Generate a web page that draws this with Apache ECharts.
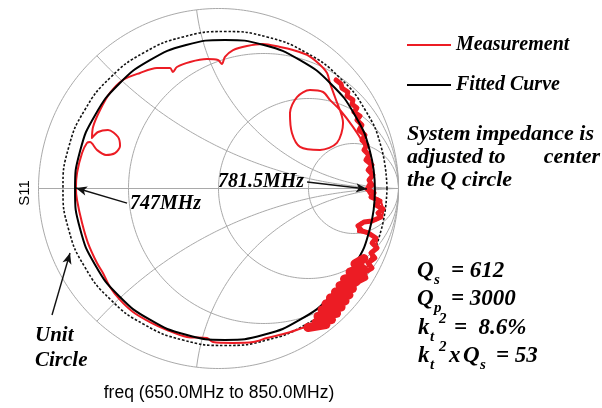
<!DOCTYPE html>
<html>
<head>
<meta charset="utf-8">
<script src="https://cdn.jsdelivr.net/npm/echarts@6/dist/echarts.min.js"></script>
<style>
html, body { margin: 0; padding: 0; background: #ffffff; }
#chart { width: 602px; height: 408px; }
</style>
</head>
<body>
<div id="chart"></div>
<script>
// Smith chart grid: normalised resistance circles and reactance arcs
const resistanceValues = [1 / 3, 1, 3];
const reactanceValues = [0.44, 0.885, -0.44, -0.885];

// Measured S11 (real, imag), 650 MHz to 850 MHz
const measuredMain = [
  [0.464, -0.775], [0.381, -0.803], [0.269, -0.831], [0.192, -0.853], [0.081, -0.858],
  [-0.031, -0.853], [-0.064, -0.831], [-0.175, -0.825], [-0.286, -0.786], [-0.381, -0.742],
  [-0.475, -0.686], [-0.547, -0.619], [-0.603, -0.547], [-0.642, -0.469], [-0.675, -0.414],
  [-0.725, -0.303], [-0.758, -0.192], [-0.786, -0.064], [-0.792, 0.003], [-0.786, 0.086],
  [-0.758, 0.197], [-0.731, 0.253], [-0.714, 0.258],
  [-0.675, 0.214], [-0.625, 0.186], [-0.575, 0.197], [-0.547, 0.236], [-0.558, 0.286],
  [-0.614, 0.325], [-0.669, 0.314], [-0.703, 0.281],
  [-0.697, 0.342], [-0.658, 0.436], [-0.603, 0.531], [-0.531, 0.603], [-0.436, 0.642],
  [-0.342, 0.669], [-0.269, 0.669], [-0.253, 0.647], [-0.231, 0.675], [-0.158, 0.703],
  [-0.064, 0.719], [-0.003, 0.714], [0.019, 0.692], [0.036, 0.731], [0.081, 0.769],
  [0.158, 0.792], [0.247, 0.803], [0.342, 0.786], [0.414, 0.769], [0.492, 0.742],
  [0.553, 0.697], [0.603, 0.642], [0.619, 0.586], [0.647, 0.508],
  [0.692, 0.364], [0.658, 0.253], [0.564, 0.214], [0.453, 0.231], [0.408, 0.308],
  [0.397, 0.419], [0.436, 0.508], [0.508, 0.547], [0.581, 0.536], [0.619, 0.492],
  [0.675, 0.436], [0.747, 0.342], [0.803, 0.253], [0.842, 0.158], [0.853, 0.064],
  [0.825, 0.008], [0.842, -0.036], [0.897, -0.064], [0.914, -0.136], [0.881, -0.175],
  [0.786, -0.192], [0.775, -0.242], [0.825, -0.247], [0.881, -0.286], [0.858, -0.358],
  [0.825, -0.436], [0.786, -0.508], [0.714, -0.564], [0.636, -0.581], [0.603, -0.619],
  [0.564, -0.692], [0.547, -0.731], [0.525, -0.758], [0.464, -0.775]
];

// Noisy stretch of the trace around resonance
const measuredNoisyEdge = [
  [0.653, 0.603], [0.681, 0.581], [0.686, 0.558], [0.719, 0.536], [0.714, 0.514],
  [0.747, 0.492], [0.742, 0.469], [0.769, 0.447], [0.753, 0.425], [0.786, 0.403],
  [0.769, 0.381], [0.797, 0.353], [0.781, 0.325], [0.814, 0.297], [0.797, 0.269],
  [0.825, 0.242], [0.808, 0.214], [0.836, 0.186], [0.819, 0.158], [0.853, 0.131],
  [0.831, 0.103], [0.858, 0.075], [0.836, 0.047], [0.853, 0.019], [0.825, -0.003],
  [0.864, -0.025], [0.847, -0.047], [0.897, -0.069], [0.875, -0.092], [0.914, -0.114],
  [0.886, -0.136], [0.903, -0.158], [0.853, -0.181], [0.808, -0.186], [0.775, -0.208],
  [0.797, -0.236], [0.831, -0.247], [0.875, -0.275], [0.853, -0.303], [0.881, -0.331],
  [0.847, -0.358], [0.869, -0.386], [0.831, -0.414], [0.853, -0.442], [0.808, -0.469],
  [0.819, -0.497], [0.775, -0.519]
];

// Dense cluster of samples at the lower right
const measuredCluster = [
  [0.808, -0.389], [0.758, -0.419], [0.797, -0.442], [0.731, -0.464], [0.786, -0.481],
  [0.700, -0.503], [0.764, -0.519], [0.675, -0.539], [0.744, -0.556], [0.650, -0.575],
  [0.725, -0.592], [0.622, -0.608], [0.703, -0.625], [0.597, -0.642], [0.681, -0.658],
  [0.575, -0.675], [0.656, -0.694], [0.553, -0.711], [0.628, -0.728], [0.542, -0.744],
  [0.597, -0.756], [0.497, -0.772]
];

// Fitted Q circle
const fittedCurve = [
  [0.869, -0.008], [0.841, 0.208], [0.757, 0.409], [0.625, 0.581], [0.453, 0.713],
  [0.252, 0.797], [0.036, 0.825], [-0.180, 0.797], [-0.381, 0.713], [-0.553, 0.581],
  [-0.685, 0.409], [-0.769, 0.208], [-0.797, -0.008], [-0.769, -0.224], [-0.685, -0.425],
  [-0.553, -0.597], [-0.381, -0.729], [-0.180, -0.813], [0.036, -0.841], [0.252, -0.813],
  [0.453, -0.729], [0.625, -0.597], [0.757, -0.425], [0.841, -0.224], [0.869, -0.008]
];

// Unit circle of the renormalised system
const unitCircle = [
  [0.936, 0], [0.905, 0.226], [0.815, 0.436], [0.672, 0.617], [0.486, 0.755],
  [0.269, 0.842], [0.036, 0.872], [-0.197, 0.842], [-0.414, 0.755], [-0.600, 0.617],
  [-0.743, 0.436], [-0.833, 0.226], [-0.864, 0], [-0.833, -0.226], [-0.743, -0.436],
  [-0.600, -0.617], [-0.414, -0.755], [-0.197, -0.842], [0.036, -0.872], [0.269, -0.842],
  [0.486, -0.755], [0.672, -0.617], [0.815, -0.436], [0.905, -0.226], [0.936, 0]
];

// Marker annotations: [tail, head]
const markers747 = [[-0.508, -0.081], [-0.792, 0.003]];
const markers7815 = [[0.492, 0.036], [0.825, -0.003]];
const unitCircleArrow = [[-0.925, -0.703], [-0.825, -0.358]];

function toGamma(r, x) {
  const d = (r + 1) * (r + 1) + x * x;
  return [(r * r - 1 + x * x) / d, 2 * x / d];
}
function resistanceCircle(r) {
  const pts = [[1, 0]];
  const n = 720;
  for (let i = 1; i < n; i++) {
    const t = -Math.PI / 2 + Math.PI * i / n;
    pts.push(toGamma(r, Math.tan(t)));
  }
  pts.push([1, 0]);
  return pts;
}
function reactanceArc(x) {
  const pts = [];
  const n = 600;
  for (let i = 0; i < n; i++) {
    const t = (Math.PI / 2) * i / n;
    pts.push(toGamma(Math.tan(t), x));
  }
  pts.push([1, 0]);
  return pts;
}
function outerCircle() {
  const pts = [];
  for (let i = 0; i <= 720; i++) {
    const a = 2 * Math.PI * i / 720;
    pts.push([Math.cos(a), Math.sin(a)]);
  }
  return pts;
}

const gridColor = '#a9a9a9';
function gridSeries(data) {
  return {
    type: 'line', data: data, symbol: 'none', silent: true, animation: false,
    lineStyle: { color: gridColor, width: 1 }, z: 1, legendHoverLink: false
  };
}

const series = [];
series.push(gridSeries(outerCircle()));
series.push(gridSeries([[-1, 0], [1, 0]]));
resistanceValues.forEach(r => series.push(gridSeries(resistanceCircle(r))));
reactanceValues.forEach(x => series.push(gridSeries(reactanceArc(x))));

series.push({
  type: 'line', name: 'Unit circle', data: unitCircle, symbol: 'none', smooth: 0.5,
  silent: true, animation: false, z: 3,
  lineStyle: { color: '#111', width: 1.6, type: [2.5, 1.8] }
});

const red = '#ec1c24';
series.push({
  type: 'line', name: 'Measurement', color: red, data: measuredMain, symbol: 'none',
  smooth: 0.3, silent: true, animation: false, z: 4,
  lineStyle: { color: red, width: 2, join: 'round' }
});
series.push({
  type: 'line', name: 'Measurement', color: red, data: measuredNoisyEdge, symbol: 'none',
  silent: true, animation: false, z: 4,
  lineStyle: { color: red, width: 5, join: 'round', cap: 'round' }
});
series.push({
  type: 'line', name: 'Fitted Curve', color: '#000', data: fittedCurve, symbol: 'none',
  smooth: 0.5, silent: true, animation: false, z: 5,
  lineStyle: { color: '#000', width: 2 }
});
series.push({
  type: 'line', name: 'Measurement', color: red, data: measuredCluster, symbol: 'none',
  silent: true, animation: false, z: 6,
  lineStyle: { color: red, width: 9, join: 'round', cap: 'round' }
});

function arrowPair(p) {
  return [{ coord: p[0], symbol: 'none' }, { coord: p[1], symbol: 'arrow' }];
}
series.push({
  type: 'line', data: [], silent: true, animation: false, z: 7,
  markLine: {
    silent: true, animation: false, symbolSize: [7, 11],
    label: { show: false },
    lineStyle: { color: '#111', width: 1.4, type: 'solid' },
    data: [arrowPair(markers747), arrowPair(markers7815), arrowPair(unitCircleArrow)]
  }
});

const serif = '"Liberation Serif", "Times New Roman", serif';
const sans = '"Liberation Sans", Arial, sans-serif';
function label(text, x, y, size, opts) {
  const o = opts || {};
  return {
    type: 'text', x: x, y: y, silent: true, z: 20,
    rotation: o.rotation || 0,
    style: {
      text: text, fill: '#000',
      fontFamily: o.family || serif,
      fontSize: size,
      fontWeight: o.weight || 'bold',
      fontStyle: o.style || 'italic',
      textAlign: o.align || 'left',
      textVerticalAlign: 'middle'
    }
  };
}

const graphics = [
  label('S11', 25, 193, 15, { family: sans, weight: 'normal', style: 'normal', align: 'center', rotation: Math.PI / 2 }),
  label('freq (650.0MHz to 850.0MHz)', 219, 393, 17.5, { family: sans, weight: 'normal', style: 'normal', align: 'center' }),
  label('747MHz', 130, 204, 20),
  label('781.5MHz', 218, 182, 20),
  label('Unit', 35, 336, 21),
  label('Circle', 35, 361, 21),
  label('System impedance is', 407, 134, 22),
  label('adjusted', 407, 157, 22),
  label('to', 497, 157, 22, { align: 'center' }),
  label('center', 600, 157, 22, { align: 'right' }),
  label('the Q circle', 407, 180, 22),
  // Q_s = 612
  label('Q', 417, 271, 23),
  label('s', 434, 280, 15),
  label('= 612', 451, 271, 23),
  // Q_p = 3000
  label('Q', 417, 299, 23),
  label('p', 434, 308, 15),
  label('= 3000', 451, 299, 23),
  // k_t^2 = 8.6%
  label('k', 418, 328, 23),
  label('t', 430, 337, 15),
  label('2', 439, 319, 15),
  label('=  8.6%', 454, 328, 23),
  // k_t^2 x Q_s = 53
  label('k', 418, 356, 23),
  label('t', 430, 365, 15),
  label('2', 439, 347, 15),
  label('x', 449, 356, 23),
  label('Q', 463, 356, 23),
  label('s', 480, 365, 15),
  label('= 53', 496, 356, 23)
];

const chart = echarts.init(document.getElementById('chart'));
chart.setOption({
  animation: false,
  backgroundColor: '#ffffff',
  grid: { left: 38.5, top: 8.5, width: 360, height: 360, containLabel: false },
  xAxis: { type: 'value', min: -1, max: 1, show: false },
  yAxis: { type: 'value', min: -1, max: 1, show: false },
  legend: {
    data: ['Measurement', 'Fitted Curve'],
    orient: 'vertical', left: 402, top: 30,
    icon: 'rect', itemWidth: 44, itemHeight: 2, itemGap: 20,
    selectedMode: false,
    textStyle: { fontFamily: serif, fontWeight: 'bold', fontStyle: 'italic', fontSize: 20, color: '#000', lineHeight: 20 }
  },
  tooltip: { show: false },
  series: series,
  graphic: graphics
});
</script>
</body>
</html>
